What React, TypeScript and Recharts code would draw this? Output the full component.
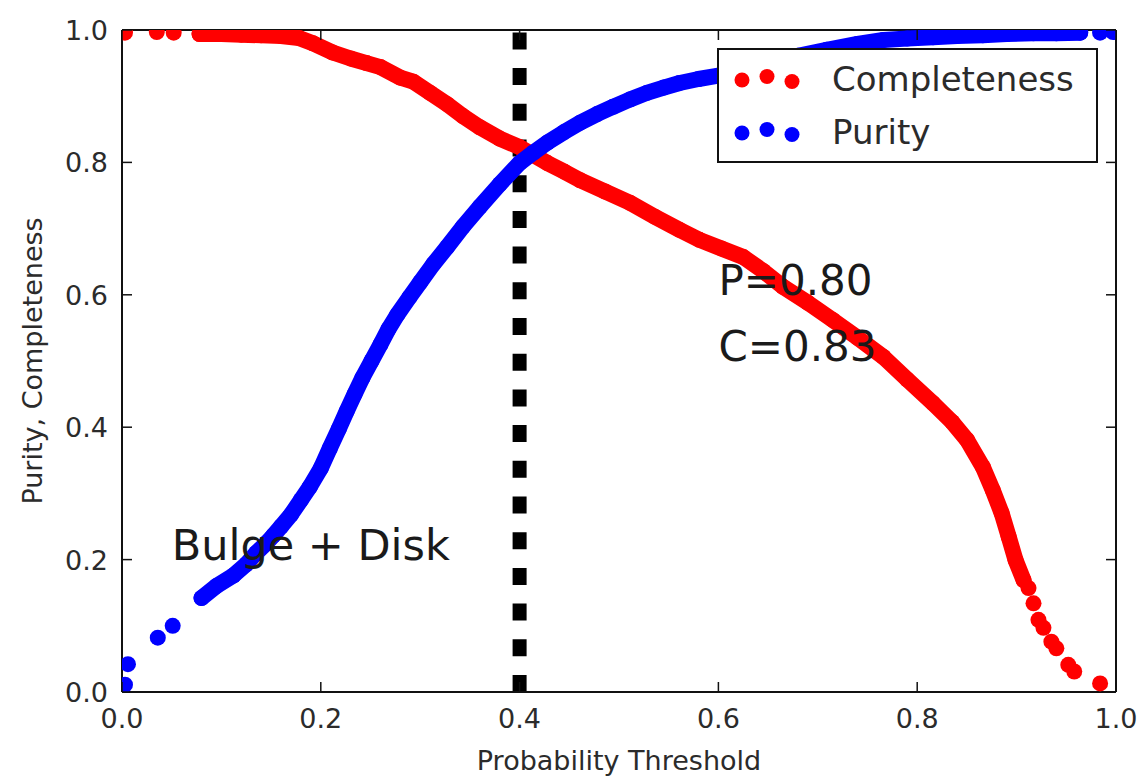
import {
  ComposedChart,
  Scatter,
  XAxis,
  YAxis,
  ReferenceLine,
  ReferenceDot,
  Legend,
} from "recharts";

const FONT = "'DejaVu Sans', sans-serif";
const TXT = "#2b2b2b";
const AX = "#111";

const xTicks = [0, 0.2, 0.4, 0.6, 0.8, 1.0];
const yTicks = [0, 0.2, 0.4, 0.6, 0.8, 1.0];

// completeness (red): sparse head, dense body, sparse tail
const compHead = [
  { x: 0.003, y: 0.996 }, { x: 0.035, y: 0.997 }, { x: 0.052, y: 0.996 },
];
const compBody = [
  { x: 0.078, y: 0.994 }, { x: 0.1, y: 0.994 }, { x: 0.12, y: 0.993 }, { x: 0.14, y: 0.992 },
  { x: 0.16, y: 0.991 }, { x: 0.178, y: 0.988 }, { x: 0.192, y: 0.98 }, { x: 0.212, y: 0.966 },
  { x: 0.23, y: 0.957 }, { x: 0.246, y: 0.95 }, { x: 0.26, y: 0.944 }, { x: 0.28, y: 0.928 },
  { x: 0.293, y: 0.922 }, { x: 0.31, y: 0.905 }, { x: 0.327, y: 0.888 }, { x: 0.343, y: 0.87 },
  { x: 0.36, y: 0.853 }, { x: 0.38, y: 0.836 }, { x: 0.4, y: 0.823 }, { x: 0.414, y: 0.811 },
  { x: 0.428, y: 0.799 }, { x: 0.445, y: 0.786 }, { x: 0.461, y: 0.773 }, { x: 0.486, y: 0.756 },
  { x: 0.511, y: 0.739 }, { x: 0.536, y: 0.718 }, { x: 0.561, y: 0.698 }, { x: 0.581, y: 0.683 },
  { x: 0.603, y: 0.67 }, { x: 0.625, y: 0.657 }, { x: 0.645, y: 0.636 }, { x: 0.665, y: 0.612 },
  { x: 0.69, y: 0.588 }, { x: 0.715, y: 0.562 }, { x: 0.74, y: 0.535 }, { x: 0.766, y: 0.506 },
  { x: 0.79, y: 0.472 }, { x: 0.816, y: 0.436 }, { x: 0.835, y: 0.408 }, { x: 0.85, y: 0.381 },
  { x: 0.866, y: 0.34 }, { x: 0.876, y: 0.305 }, { x: 0.885, y: 0.27 }, { x: 0.892, y: 0.235 },
  { x: 0.899, y: 0.199 }, { x: 0.907, y: 0.169 },
];
const compTail = [
  { x: 0.912, y: 0.157 }, { x: 0.917, y: 0.134 }, { x: 0.922, y: 0.109 }, { x: 0.927, y: 0.097 },
  { x: 0.935, y: 0.076 }, { x: 0.94, y: 0.066 }, { x: 0.952, y: 0.041 }, { x: 0.958, y: 0.031 },
  { x: 0.984, y: 0.013 },
];

// purity (blue)
const purHead = [
  { x: 0.003, y: 0.011 }, { x: 0.006, y: 0.042 }, { x: 0.036, y: 0.082 }, { x: 0.051, y: 0.1 },
];
const purBody = [
  { x: 0.08, y: 0.142 }, { x: 0.095, y: 0.16 }, { x: 0.112, y: 0.176 }, { x: 0.125, y: 0.193 },
  { x: 0.135, y: 0.21 }, { x: 0.146, y: 0.226 }, { x: 0.152, y: 0.236 }, { x: 0.16, y: 0.25 },
  { x: 0.17, y: 0.268 }, { x: 0.18, y: 0.29 }, { x: 0.189, y: 0.31 }, { x: 0.2, y: 0.338 },
  { x: 0.209, y: 0.368 }, { x: 0.218, y: 0.397 }, { x: 0.226, y: 0.424 }, { x: 0.234, y: 0.45 },
  { x: 0.242, y: 0.475 }, { x: 0.251, y: 0.5 }, { x: 0.26, y: 0.525 }, { x: 0.268, y: 0.548 },
  { x: 0.277, y: 0.57 }, { x: 0.289, y: 0.596 }, { x: 0.3, y: 0.619 }, { x: 0.313, y: 0.646 },
  { x: 0.327, y: 0.672 }, { x: 0.343, y: 0.703 }, { x: 0.36, y: 0.733 }, { x: 0.38, y: 0.767 },
  { x: 0.4, y: 0.799 }, { x: 0.414, y: 0.815 }, { x: 0.428, y: 0.83 }, { x: 0.445, y: 0.846 },
  { x: 0.461, y: 0.86 }, { x: 0.478, y: 0.873 }, { x: 0.494, y: 0.884 }, { x: 0.511, y: 0.895 },
  { x: 0.528, y: 0.905 }, { x: 0.545, y: 0.913 }, { x: 0.561, y: 0.92 }, { x: 0.58, y: 0.926 },
  { x: 0.6, y: 0.931 }, { x: 0.625, y: 0.94 }, { x: 0.65, y: 0.95 }, { x: 0.68, y: 0.961 },
  { x: 0.709, y: 0.97 }, { x: 0.74, y: 0.979 }, { x: 0.766, y: 0.985 }, { x: 0.79, y: 0.987 },
  { x: 0.816, y: 0.989 }, { x: 0.84, y: 0.991 }, { x: 0.866, y: 0.992 }, { x: 0.89, y: 0.994 },
  { x: 0.917, y: 0.995 }, { x: 0.94, y: 0.995 }, { x: 0.964, y: 0.996 },
];
const purTail = [{ x: 0.984, y: 0.996 }, { x: 0.997, y: 0.997 }];

const threshold = 0.4;

const notes = [
  { x: 0.05, y: 0.2, text: "Bulge + Disk", size: 43 },
  { x: 0.6, y: 0.6, text: "P=0.80", size: 42 },
  { x: 0.6, y: 0.5, text: "C=0.83", size: 42 },
];

const RED = "#ff0000";
const BLUE = "#0000ff";

const dot = (color: string) => (p: any) => <circle cx={p.cx} cy={p.cy} r={8} fill={color} />;

const BottomTick = (p: any) => (
  <g>
    <line x1={p.x} x2={p.x} y1={p.y} y2={p.y - 10} stroke={AX} strokeWidth={1.5} />
    <text x={p.x} y={p.y + 36} textAnchor="middle" fontSize={27} fill={TXT} fontFamily={FONT}>
      {Number(p.payload.value).toFixed(1)}
    </text>
  </g>
);
const LeftTick = (p: any) => (
  <g>
    <line x1={p.x} x2={p.x + 10} y1={p.y} y2={p.y} stroke={AX} strokeWidth={1.5} />
    <text x={p.x - 14} y={p.y + 10} textAnchor="end" fontSize={27} fill={TXT} fontFamily={FONT}>
      {Number(p.payload.value).toFixed(1)}
    </text>
  </g>
);
const TopTick = (p: any) => (
  <line x1={p.x} x2={p.x} y1={p.y} y2={p.y + 10} stroke={AX} strokeWidth={1.5} />
);
const RightTick = (p: any) => (
  <line x1={p.x} x2={p.x - 10} y1={p.y} y2={p.y} stroke={AX} strokeWidth={1.5} />
);

const LegendBox = ({ payload }: any) => {
  const items = (payload || []).filter((e: any) => e.type !== "none");
  const jitter = [2, -1.5, 3.5];
  return (
    <svg width={381} height={115}>
      <rect x={1} y={1} width={379} height={113} fill="#fff" stroke={AX} strokeWidth={2} />
      {items.map((e: any, i: number) => {
        const cy = 30 + i * 53;
        return (
          <g key={e.value}>
            {[25, 50, 75].map((cx, k) => (
              <circle key={k} cx={cx} cy={cy + jitter[k]} r={7.5} fill={e.color} />
            ))}
            <text x={115} y={cy + 13} fontSize={34} fill={TXT} fontFamily={FONT}>
              {e.value}
            </text>
          </g>
        );
      })}
    </svg>
  );
};

export default function App() {
  return (
    <div style={{ position: "absolute", left: 0, top: 0, background: "#fff" }}>
      <ComposedChart width={1145} height={778} margin={{ top: 29, right: 28, bottom: 0, left: 0 }}>
        <XAxis
          dataKey="x" type="number" domain={[0, 1]} ticks={xTicks} interval={0}
          allowDataOverflow height={86} tickSize={0} tickMargin={0} tickLine={false}
          axisLine={{ stroke: AX, strokeWidth: 2 }} tick={<BottomTick />}
          label={(p: any) => (
            <text x={p.viewBox.x + p.viewBox.width / 2} y={p.viewBox.y + 78} textAnchor="middle"
              fontSize={27} fill={TXT} fontFamily={FONT}>Probability Threshold</text>
          )}
        />
        <XAxis
          xAxisId="top" orientation="top" dataKey="x" type="number" domain={[0, 1]} ticks={xTicks}
          interval={0} height={1} tickSize={0} tickMargin={0} tickLine={false}
          axisLine={{ stroke: AX, strokeWidth: 2 }} tick={<TopTick />}
        />
        <YAxis
          dataKey="y" type="number" domain={[0, 1]} ticks={yTicks} interval={0}
          allowDataOverflow width={122} tickSize={0} tickMargin={0} tickLine={false}
          axisLine={{ stroke: AX, strokeWidth: 2 }} tick={<LeftTick />}
          label={(p: any) => {
            const cx = 42;
            const cy = p.viewBox.y + p.viewBox.height / 2;
            return (
              <text x={cx} y={cy} transform={`rotate(-90 ${cx} ${cy})`} textAnchor="middle"
                fontSize={27} fill={TXT} fontFamily={FONT}>Purity, Completeness</text>
            );
          }}
        />
        <YAxis
          yAxisId="right" orientation="right" dataKey="y" type="number" domain={[0, 1]} ticks={yTicks}
          interval={0} width={1} tickSize={0} tickMargin={0} tickLine={false}
          axisLine={{ stroke: AX, strokeWidth: 2 }} tick={<RightTick />}
        />

        <Scatter name="Completeness" data={compBody} fill={RED} shape={dot(RED)} isAnimationActive={false}
          line={{ stroke: RED, strokeWidth: 16, strokeLinejoin: "round", strokeLinecap: "round" }} />
        <Scatter name="comp-head" legendType="none" data={compHead} fill={RED} shape={dot(RED)} isAnimationActive={false} />
        <Scatter name="comp-tail" legendType="none" data={compTail} fill={RED} shape={dot(RED)} isAnimationActive={false} />

        <Scatter name="Purity" data={purBody} fill={BLUE} shape={dot(BLUE)} isAnimationActive={false}
          line={{ stroke: BLUE, strokeWidth: 16, strokeLinejoin: "round", strokeLinecap: "round" }} />
        <Scatter name="pur-head" legendType="none" data={purHead} fill={BLUE} shape={dot(BLUE)} isAnimationActive={false} />
        <Scatter name="pur-tail" legendType="none" data={purTail} fill={BLUE} shape={dot(BLUE)} isAnimationActive={false} />

        {/* invisible series so the top/right axes get drawn */}
        <Scatter xAxisId="top" yAxisId="right" legendType="none" data={purTail} fill="none"
          shape={() => <g />} isAnimationActive={false} />

        <ReferenceLine x={threshold} stroke="#000" strokeWidth={14} strokeDasharray="17 18.7" />

        {notes.map((n) => (
          <ReferenceDot key={n.text} x={n.x} y={n.y} r={0}
            shape={(p: any) => (
              <text x={p.cx} y={p.cy} fontSize={n.size} fill="#1a1a1a" fontFamily={FONT}>{n.text}</text>
            )}
          />
        ))}

        <Legend layout="vertical" align="center" verticalAlign="middle" content={<LegendBox />}
          wrapperStyle={{ left: 717, top: 48, width: 381, height: 115 }} />
      </ComposedChart>
    </div>
  );
}
